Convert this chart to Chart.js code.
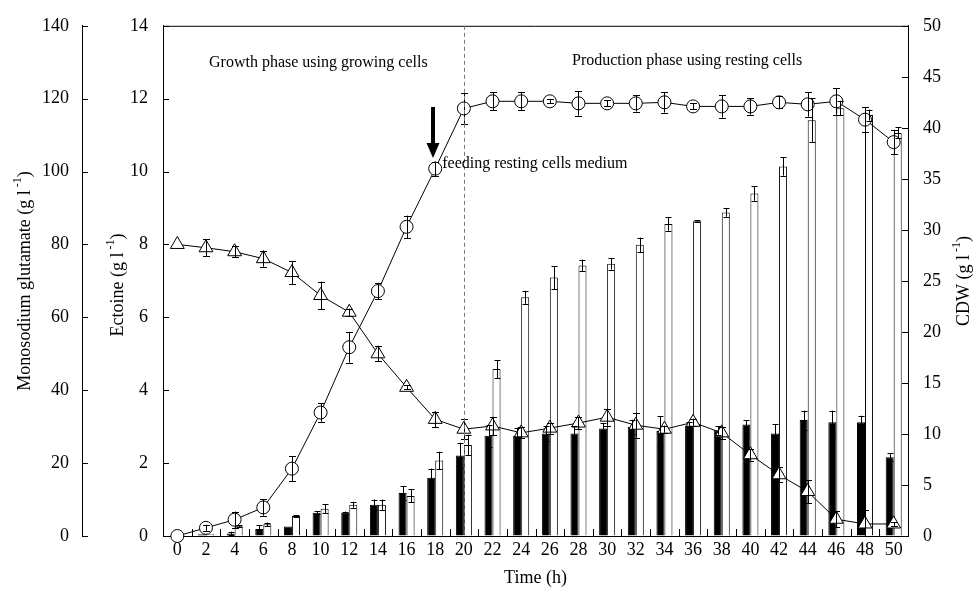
<!DOCTYPE html>
<html><head><meta charset="utf-8">
<script src="https://cdn.jsdelivr.net/npm/chart.js@4.4.0/dist/chart.umd.min.js"></script>
<style>html,body{margin:0;padding:0;background:#fff;}</style>
</head><body>
<canvas id="c" width="979" height="590" style="display:block;width:979px;height:590px"></canvas>
<script>
// ---- data ----
const timeLabels = ['0','2','4','6','8','10','12','14','16','18','20','22','24','26','28','30','32','34','36','38','40','42','44','46','48','50'];
// CDW (g/l), circles, right axis
const cdw    = [0, 0.8, 1.6, 2.8, 6.6, 12.1, 18.5, 24.0, 30.3, 36.0, 41.9, 42.6, 42.6, 42.6, 42.4, 42.4, 42.4, 42.5, 42.1, 42.1, 42.1, 42.5, 42.3, 42.6, 40.8, 38.6];
const cdwErr = [0, 0.3, 0.8, 0.8, 1.2, 0.9, 1.5, 0.8, 1.1, 0.7, 1.5, 0.9, 0.9, 0.2, 1.2, 0.3, 0.8, 1.0, 0.3, 1.1, 0.8, 0.6, 1.2, 1.3, 1.2, 1.2];
// Monosodium glutamate (g/l), triangles, outer left axis
const glutamate    = [80, 79.1, 78.0, 76.1, 72.3, 66.0, 61.4, 50.0, 40.8, 32.0, 29.3, 30.2, 28.3, 29.6, 31.0, 32.6, 30.4, 29.3, 31.2, 28.3, 22.3, 16.8, 12.2, 4.6, 3.3, 3.3];
const glutamateErr = [0, 2.3, 1.5, 2.2, 3.1, 3.8, 1.0, 2.0, 0.5, 2.1, 2.7, 2.5, 1.5, 1.5, 1.6, 2.3, 3.4, 1.0, 1.0, 1.6, 1.6, 2.0, 3.2, 2.2, 3.9, 0.5];
// Ectoine (g/l), bars, inner left axis
const ectoineBlack    = [0, 0.05, 0.07, 0.19, 0.26, 0.64, 0.64, 0.86, 1.18, 1.60, 2.21, 2.75, 2.75, 2.81, 2.81, 2.95, 2.99, 2.88, 3.02, 2.90, 3.06, 2.81, 3.18, 3.12, 3.12, 2.16];
const ectoineBlackErr = [0, 0, 0.05, 0.10, 0, 0.05, 0.03, 0.14, 0.18, 0.25, 0.35, 0.30, 0.22, 0.20, 0.20, 0.15, 0.20, 0.40, 0.10, 0.12, 0.11, 0.25, 0.26, 0.32, 0.18, 0.11];
const ectoineWhite    = [0, 0.05, 0.27, 0.32, 0.55, 0.75, 0.86, 0.86, 1.10, 2.07, 2.50, 4.58, 6.55, 7.09, 7.42, 7.47, 7.99, 8.56, 8.64, 8.88, 9.40, 10.14, 11.41, 11.74, 11.55, 11.06];
const ectoineWhiteErr = [0, 0, 0.03, 0.05, 0.02, 0.12, 0.08, 0.14, 0.18, 0.24, 0.28, 0.25, 0.18, 0.32, 0.16, 0.16, 0.20, 0.18, 0.02, 0.12, 0.20, 0.25, 0.60, 0.20, 0.15, 0.15];

const SERIF = "'Liberation Serif','Times New Roman',serif";

const decor = {
  id: 'decor',
  afterDatasetsDraw(chart) {
    const ctx = chart.ctx;
    ctx.save();
    const errSets = [
      {ds: 0, err: ectoineBlackErr, cap: 3},
      {ds: 1, err: ectoineWhiteErr, cap: 3},
      {ds: 2, err: glutamateErr, cap: 3.5},
      {ds: 3, err: cdwErr, cap: 3.5}
    ];
    ctx.strokeStyle = '#000';
    ctx.lineWidth = 1;
    errSets.forEach(es => {
      const meta = chart.getDatasetMeta(es.ds);
      const ys = chart.scales[meta.yAxisID];
      const vals = chart.data.datasets[es.ds].data;
      meta.data.forEach((el, i) => {
        const e = es.err[i];
        if (!e) return;
        const x = Math.round(el.x) + 0.5;
        const y1 = ys.getPixelForValue(vals[i] + e), y2 = ys.getPixelForValue(Math.max(vals[i] - e, 0));
        ctx.beginPath();
        ctx.moveTo(x, y1); ctx.lineTo(x, y2);
        ctx.moveTo(x - es.cap, Math.round(y1) + 0.5); ctx.lineTo(x + es.cap, Math.round(y1) + 0.5);
        ctx.moveTo(x - es.cap, Math.round(y2) + 0.5); ctx.lineTo(x + es.cap, Math.round(y2) + 0.5);
        ctx.stroke();
      });
    });
    ctx.restore();
  },
  afterDraw(chart) {
    const ctx = chart.ctx, ca = chart.chartArea;
    const sx = chart.scales.x, sy = chart.scales.y, sg = chart.scales.yG, sc = chart.scales.yC;
    ctx.save();
    ctx.strokeStyle = '#000';
    ctx.lineWidth = 1;
    // top frame line
    ctx.beginPath();
    ctx.moveTo(ca.left, ca.top + 0.5); ctx.lineTo(ca.right, ca.top + 0.5);
    ctx.stroke();
    // inward ticks
    ctx.beginPath();
    sy.ticks.forEach(t => { const y = Math.round(sy.getPixelForValue(t.value)) + 0.5; ctx.moveTo(ca.left, y); ctx.lineTo(ca.left + 6, y); });
    sc.ticks.forEach(t => { const y = Math.round(sc.getPixelForValue(t.value)) + 0.5; ctx.moveTo(ca.right, y); ctx.lineTo(ca.right - 6, y); });
    sg.ticks.forEach(t => { const y = Math.round(sg.getPixelForValue(t.value)) + 0.5; ctx.moveTo(sg.right, y); ctx.lineTo(sg.right + 6, y); });
    for (let i = 0; i < timeLabels.length - 1; i++) {
      const x = Math.round((sx.getPixelForTick(i) + sx.getPixelForTick(i + 1)) / 2) + 0.5;
      ctx.moveTo(x, ca.bottom); ctx.lineTo(x, ca.bottom - 7);
    }
    ctx.stroke();
    // dashed phase divider at 20 h
    const xd = Math.round(sx.getPixelForValue(timeLabels.indexOf('20'))) + 0.5;
    ctx.strokeStyle = '#777';
    ctx.setLineDash([4, 3]);
    ctx.beginPath(); ctx.moveTo(xd, ca.top); ctx.lineTo(xd, ca.bottom); ctx.stroke();
    ctx.setLineDash([]);
    // annotation texts
    ctx.fillStyle = '#000';
    ctx.font = '16px ' + SERIF;
    ctx.textAlign = 'left';
    ctx.textBaseline = 'alphabetic';
    ctx.fillText('Growth phase using growing cells', 209, 67);
    ctx.fillText('Production phase using resting cells', 572, 65);
    const xf = sx.getPixelForValue(timeLabels.indexOf('18'));
    ctx.fillText('feeding resting cells medium', xf + 7, 168);
    // arrow
    const xa = Math.round(xf) - 2;
    ctx.fillRect(xa - 2, 107, 4, 40);
    ctx.beginPath();
    ctx.moveTo(xa - 6.5, 143); ctx.lineTo(xa + 6.5, 143); ctx.lineTo(xa, 158); ctx.closePath(); ctx.fill();
    // axis titles
    const drawTitle = (cx, cy, main) => {
      ctx.save();
      ctx.translate(cx, cy);
      ctx.rotate(-Math.PI / 2);
      const fMain = '18px ' + SERIF, fSup = '12px ' + SERIF;
      ctx.font = fMain; const w1 = ctx.measureText(main).width; const w3 = ctx.measureText(')').width;
      ctx.font = fSup; const w2 = ctx.measureText(' -1').width;
      let x = -(w1 + w2 + w3) / 2;
      ctx.textAlign = 'left'; ctx.textBaseline = 'middle'; ctx.fillStyle = '#000';
      ctx.font = fMain; ctx.fillText(main, x, 0); x += w1;
      ctx.font = fSup; ctx.fillText(' -1', x, -7); x += w2;
      ctx.font = fMain; ctx.fillText(')', x, 0);
      ctx.restore();
    };
    const cy = (ca.top + ca.bottom) / 2;
    drawTitle(25, cy, 'Monosodium glutamate (g l');
    drawTitle(118, cy + 4, 'Ectoine (g l');
    drawTitle(964, cy, 'CDW (g l');
    ctx.restore();
  }
};

const tickFont = {family: SERIF, size: 18};

new Chart(document.getElementById('c'), {
  type: 'bar',
  data: {
    labels: timeLabels,
    datasets: [
      {type: 'bar', label: 'Ectoine (black)', data: ectoineBlack, yAxisID: 'y', backgroundColor: '#000', borderColor: '#000', borderWidth: 1, categoryPercentage: 0.56, barPercentage: 1.0, order: 2},
      {type: 'bar', label: 'Ectoine (white)', data: ectoineWhite, yAxisID: 'y', backgroundColor: '#fff', borderColor: '#000', borderWidth: 1, categoryPercentage: 0.56, barPercentage: 1.0, order: 2},
      {type: 'line', label: 'Monosodium glutamate', data: glutamate, yAxisID: 'yG', borderColor: '#000', borderWidth: 1, pointStyle: 'triangle', pointRadius: 8, pointBackgroundColor: '#fff', pointBorderColor: '#000', pointBorderWidth: 1, tension: 0, clip: false, order: 1},
      {type: 'line', label: 'CDW', data: cdw, yAxisID: 'yC', borderColor: '#000', borderWidth: 1, pointStyle: 'circle', pointRadius: 6.5, pointBackgroundColor: '#fff', pointBorderColor: '#000', pointBorderWidth: 1, tension: 0, clip: false, order: 0}
    ]
  },
  options: {
    responsive: false,
    animation: false,
    devicePixelRatio: 1,
    layout: {padding: {top: 21, left: 0, right: 0, bottom: 0}},
    plugins: {legend: {display: false}, tooltip: {enabled: false}},
    scales: {
      x: {
        type: 'category', offset: true,
        grid: {display: true, drawOnChartArea: false, drawTicks: false, offset: true},
        border: {display: true, color: '#000', width: 1},
        ticks: {font: tickFont, color: '#000', padding: 3, maxRotation: 0, autoSkip: false},
        title: {display: true, text: 'Time (h)', font: {family: SERIF, size: 18}, color: '#000', padding: {top: 0, bottom: 1}},
        afterFit(s) { s.height = 54; }
      },
      yG: {
        position: 'left', weight: 10, min: 0, max: 140,
        grid: {display: true, drawOnChartArea: false, drawTicks: false},
        border: {display: true, color: '#000', width: 1},
        ticks: {stepSize: 20, font: tickFont, color: '#000', padding: 13},
        afterFit(s) { s.width = 82; }
      },
      y: {
        position: 'left', weight: 0, min: 0, max: 14,
        grid: {display: true, drawOnChartArea: false, drawTicks: false},
        border: {display: true, color: '#000', width: 1},
        ticks: {stepSize: 2, font: tickFont, color: '#000', padding: 15},
        afterFit(s) { s.width = 81; }
      },
      yC: {
        position: 'right', min: 0, max: 50,
        grid: {display: true, drawOnChartArea: false, drawTicks: false},
        border: {display: true, color: '#000', width: 1},
        ticks: {stepSize: 5, font: tickFont, color: '#000', padding: 15},
        afterFit(s) { s.width = 71; }
      }
    }
  },
  plugins: [decor]
});
</script>
</body></html>
